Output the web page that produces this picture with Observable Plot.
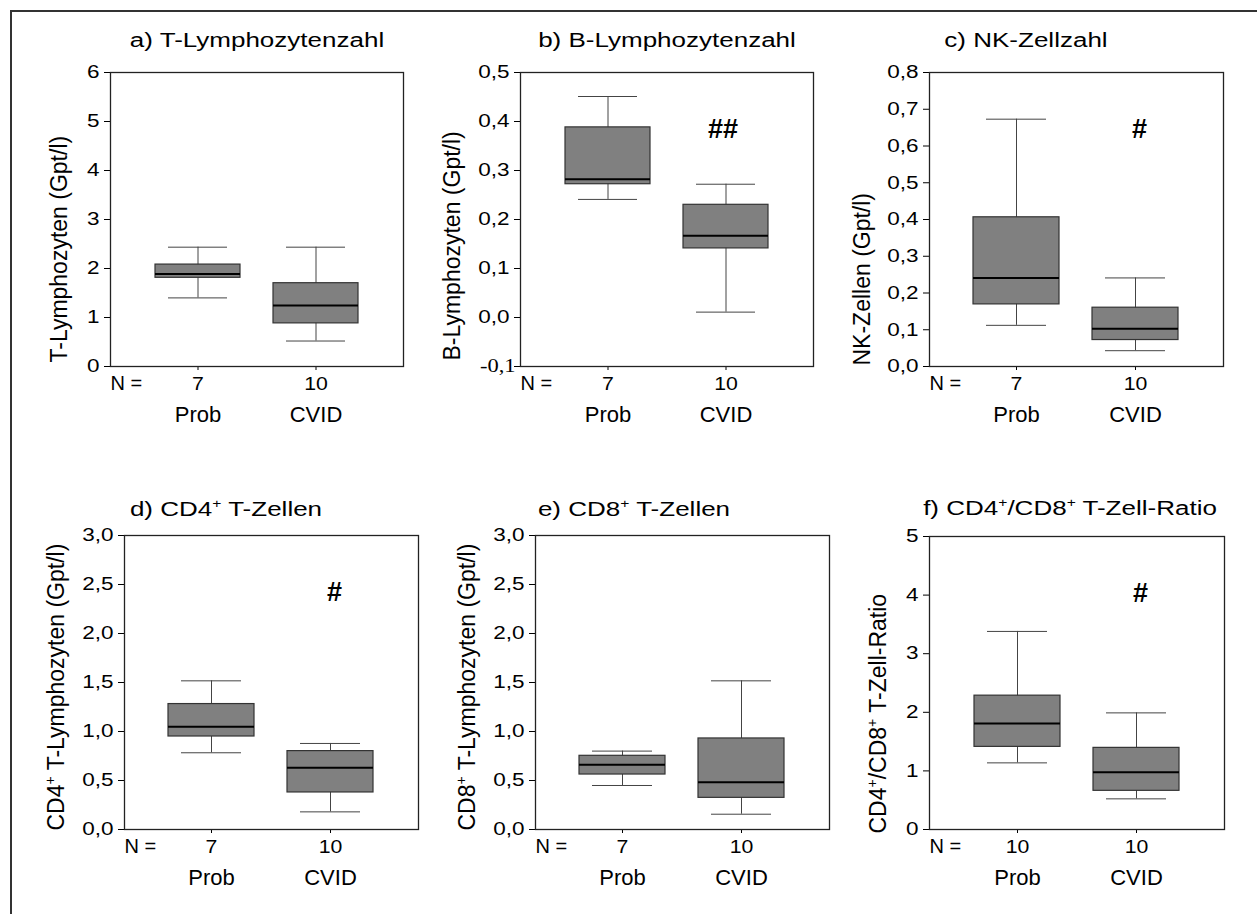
<!DOCTYPE html>
<html><head><meta charset="utf-8">
<script src="https://cdn.jsdelivr.net/npm/d3@7"></script>
<script src="https://cdn.jsdelivr.net/npm/@observablehq/plot@0.6"></script>
<style>
body{margin:0;background:#fff;}
#fig{position:relative;width:1257px;height:914px;overflow:hidden;background:#fff;font-family:"Liberation Sans",Arial,sans-serif;}
.outer{position:absolute;left:10px;top:10px;width:1400px;height:1000px;border-top:2px solid #333;border-left:2px solid #333;}
.title{position:absolute;white-space:nowrap;font-size:20px;line-height:20px;color:#000;transform:translateX(-50%) scaleX(1.3);}
.title sup{font-size:0.6em;line-height:0;vertical-align:0.7em;}
.panel{position:absolute;}
</style></head><body><div id="fig"><div class="outer"></div></div>
<script>
// ---------- data ----------
const groups = ["Prob", "CVID"];
const panelTitles = ["a) T-Lymphozytenzahl", "b) B-Lymphozytenzahl", "c) NK-Zellzahl",
  "d) CD4⁺ T-Zellen", "e) CD8⁺ T-Zellen", "f) CD4⁺/CD8⁺ T-Zell-Ratio"];
const yLabels = ["T-Lymphozyten (Gpt/l)", "B-Lymphozyten (Gpt/l)", "NK-Zellen (Gpt/l)",
  "CD4⁺ T-Lymphozyten (Gpt/l)", "CD8⁺ T-Lymphozyten (Gpt/l)", "CD4⁺/CD8⁺ T-Zell-Ratio"];
const yDomains = [[0, 6], [-0.1, 0.5], [0, 0.8], [0, 3], [0, 3], [0, 5]];
const yTicks = [
  [0, 1, 2, 3, 4, 5, 6],
  [-0.1, 0.0, 0.1, 0.2, 0.3, 0.4, 0.5],
  [0.0, 0.1, 0.2, 0.3, 0.4, 0.5, 0.6, 0.7, 0.8],
  [0.0, 0.5, 1.0, 1.5, 2.0, 2.5, 3.0],
  [0.0, 0.5, 1.0, 1.5, 2.0, 2.5, 3.0],
  [0, 1, 2, 3, 4, 5]
];
const yDecimals = [0, 1, 1, 1, 1, 0];
const nCounts = [[7, 10], [7, 10], [7, 10], [7, 10], [7, 10], [10, 10]];
const whiskerLow  = [[1.40, 0.52], [0.241, 0.011], [0.112, 0.043], [0.783, 0.18], [0.449, 0.156], [1.137, 0.523]];
const q1          = [[1.81, 0.88], [0.272, 0.141], [0.169, 0.072], [0.949, 0.378], [0.561, 0.323], [1.41, 0.66]];
const median      = [[1.89, 1.245], [0.282, 0.167], [0.241, 0.103], [1.048, 0.63], [0.66, 0.483], [1.81, 0.977]];
const q3          = [[2.08, 1.70], [0.388, 0.230], [0.406, 0.160], [1.28, 0.80], [0.752, 0.929], [2.284, 1.393]];
const whiskerHigh = [[2.435, 2.435], [0.451, 0.272], [0.673, 0.241], [1.517, 0.878], [0.80, 1.517], [3.38, 1.99]];
const signif = ["", "##", "#", "#", "", "#"];

// ---------- layout (styles) ----------
const layout = [
  {left: 110, top: 72,  w: 293, h: 294, tx: 257,  ty: 30,  ldx: -44, ldy: -4},
  {left: 520, top: 72,  w: 293, h: 294, tx: 667,  ty: 30,  ldx: -61, ldy: -6},
  {left: 929, top: 72,  w: 294, h: 294, tx: 1026, ty: 30,  ldx: -60, ldy: -1},
  {left: 124, top: 535, w: 294, h: 294, tx: 226,  ty: 499, ldx: -61, ldy: 1},
  {left: 535, top: 535, w: 294, h: 294, tx: 634,  ty: 499, ldx: -61, ldy: 1},
  {left: 929, top: 536, w: 295, h: 293, tx: 1070, ty: 498, ldx: -44, ldy: 4}
];
const ML = 95, MR = 10, MT = 10, MB = 75;
const NS = "http://www.w3.org/2000/svg";
const fig = document.getElementById("fig");

function supify(svg) {
  svg.querySelectorAll("text").forEach(t => {
    if (t.querySelector("tspan") || !t.textContent.includes("⁺")) return;
    const parts = t.textContent.split("⁺");
    t.textContent = "";
    parts.forEach((p, k) => {
      if (k > 0) {
        const s = document.createElementNS(NS, "tspan");
        s.textContent = "+"; s.setAttribute("font-size", "14"); s.setAttribute("dy", "-9");
        t.appendChild(s);
      }
      const n = document.createElementNS(NS, "tspan");
      n.textContent = p;
      if (k > 0) n.setAttribute("dy", "9");
      t.appendChild(n);
    });
  });
}

layout.forEach((L, i) => {
  const rows = groups.map((g, j) => ({
    group: g, lo: whiskerLow[i][j], q1: q1[i][j], med: median[i][j],
    q3: q3[i][j], hi: whiskerHigh[i][j], n: nCounts[i][j]
  }));
  const nOf = Object.fromEntries(rows.map(r => [r.group, r.n]));
  const fmt = d => d3.format(`.${yDecimals[i]}f`)(d).replace(".", ",").replace("−", "-");

  const svg = Plot.plot({
    width: ML + L.w + MR, height: MT + L.h + MB,
    marginLeft: ML, marginRight: MR, marginTop: MT, marginBottom: MB,
    style: {fontFamily: '"Liberation Sans", Arial, sans-serif', fontSize: "18px", color: "#000", background: "transparent", overflow: "visible"},
    x: {type: "band", domain: groups, paddingInner: 0.277, paddingOuter: 0.37, axis: null},
    y: {domain: yDomains[i], axis: null},
    marks: [
      Plot.axisY({ticks: yTicks[i], tickSize: 6, tickPadding: 5, tickFormat: fmt, label: null, fontSize: 18}),
      Plot.axisX({tickSize: 4, tickPadding: 6, tickFormat: d => String(nOf[d]), label: null, fontSize: 19}),
      Plot.ruleX(rows, {x: "group", y1: "lo", y2: "hi", stroke: "#444", strokeWidth: 1}),
      Plot.tickY(rows, {x: "group", y: "lo", stroke: "#444", strokeWidth: 1, insetLeft: 13, insetRight: 13}),
      Plot.tickY(rows, {x: "group", y: "hi", stroke: "#444", strokeWidth: 1, insetLeft: 13, insetRight: 13}),
      Plot.barY(rows, {x: "group", y1: "q1", y2: "q3", fill: "#808080", stroke: "#333", strokeWidth: 1.2}),
      Plot.tickY(rows, {x: "group", y: "med", stroke: "#000", strokeWidth: 2}),
      Plot.frame({stroke: "#222", strokeWidth: 1.3}),
      Plot.text(rows, {x: "group", text: "group", frameAnchor: "bottom", lineAnchor: "bottom", dy: 55, fontSize: 22, fill: "#000"}),
      Plot.text(["N ="], {text: d => d, frameAnchor: "bottom-left", textAnchor: "start", lineAnchor: "bottom", dy: 23, fontSize: 20, fill: "#000"}),
      Plot.text([yLabels[i]], {text: d => d, frameAnchor: "bottom-left", rotate: -90, textAnchor: "start", lineAnchor: "bottom", dx: L.ldx, dy: L.ldy, fontSize: 23, fill: "#000"}),
      signif[i] ? Plot.text([signif[i]], {x: () => "CVID", text: d => d, frameAnchor: "top", dy: 46, dx: signif[i].length > 1 ? -3 : 4, fontSize: 27, fontWeight: "bold", fill: "#000"}) : null
    ]
  });
  // horizontal stretch of axis numbers as in the reference
  svg.querySelectorAll('g[aria-label="y-axis tick label"] text').forEach(t => {
    let tr = t.getAttribute("transform") || "";
    if (t.textContent === "-0,1") {
      t.setAttribute("font-family", '"Liberation Serif", "Times New Roman", serif');
      tr = "translate(6,0) " + tr;
    }
    t.setAttribute("transform", tr + " scale(1.25,1)");
  });
  svg.querySelectorAll('g[aria-label="x-axis tick label"] text').forEach(t => {
    t.setAttribute("transform", (t.getAttribute("transform") || "") + " scale(1.12,1)");
  });
  supify(svg);
  const wrap = document.createElement("div");
  wrap.className = "panel";
  wrap.style.left = (L.left - ML) + "px";
  wrap.style.top = (L.top - MT) + "px";
  wrap.appendChild(svg);
  fig.appendChild(wrap);

  const title = document.createElement("div");
  title.className = "title";
  title.style.left = L.tx + "px";
  title.style.top = L.ty + "px";
  panelTitles[i].split("⁺").forEach((p, k) => {
    if (k > 0) { const s = document.createElement("sup"); s.textContent = "+"; title.appendChild(s); }
    title.appendChild(document.createTextNode(p));
  });
  fig.appendChild(title);
});
</script></body></html>
